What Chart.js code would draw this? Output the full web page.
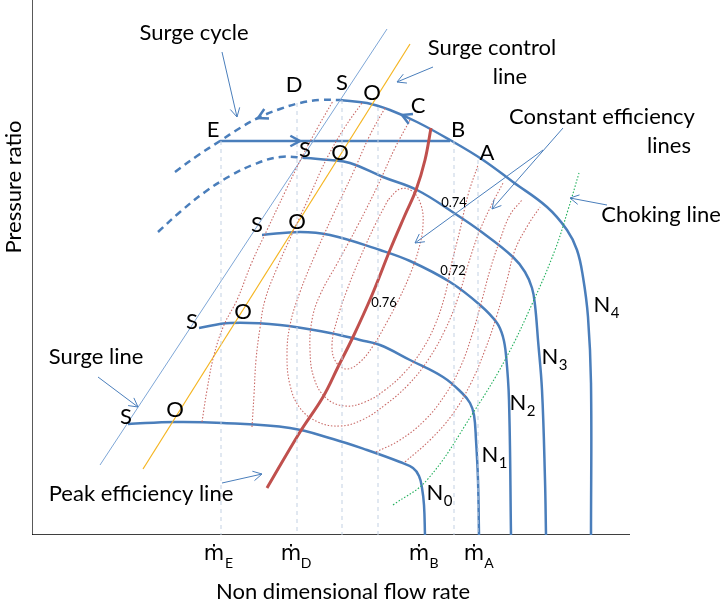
<!DOCTYPE html>
<html>
<head>
<meta charset="utf-8">
<script src="https://cdn.jsdelivr.net/npm/chart.js@4.4.1/dist/chart.umd.min.js"></script>
<style>body{margin:0;background:#fff;}</style>
</head>
<body>
<canvas id="myChart" width="725" height="604"></canvas>
<script>
// compressor map, flow rate (x) and pressure ratio (y) in arbitrary units
var surgeLine = [[68, 70], [355, 506]];
var surgeControlLine = [[111, 66], [378, 491]];
var peakEffLine = [[235, 47], [268, 103], [291, 138], [306, 168], [321, 198], [340, 240], [358, 285], [373, 320], [384, 345], [393, 375], [399, 407]];
var chokeLine = [[361, 30], [395, 55], [441, 122], [473, 175], [501, 233], [523, 285], [536, 325], [547, 362]];

// constant speed lines
var speedN0 = [[96, 111], [143, 113], [191, 112], [258, 107], [301, 96], [335, 85], [368, 73], [381, 67], [387, 59], [390, 47], [392, 30], [393, 0]];
var speedN1 = [[167, 207], [198, 212], [248, 210], [298, 202], [328, 195], [348, 190], [378, 175], [411, 158], [430, 142], [438, 132], [442, 120], [444, 95], [446, 55], [447, 0]];
var speedN2 = [[230, 300], [268, 303], [298, 300], [348, 285], [378, 274], [418, 253], [448, 230], [465, 212], [471, 198], [474, 180], [477, 135], [479, 0]];
var speedN3 = [[275, 377], [298, 375], [318, 372], [351, 358], [385, 345], [422, 322], [451, 302], [481, 278], [493, 263], [500, 247], [503, 230], [506, 195], [510, 145], [513, 55], [514, 0]];
var speedN3Stall = [[126, 303], [148, 323], [173, 343], [198, 359], [223, 371], [248, 378], [275, 377]];
var speedN4 = [[308, 435], [335, 432], [358, 425], [385, 413], [418, 395], [451, 375], [481, 353], [515, 328], [535, 305], [545, 285], [551, 258], [556, 218], [559, 152], [559, 0]];
var speedN4Stall = [[143, 363], [165, 379], [188, 394], [208, 407], [228, 418], [248, 426], [268, 432], [288, 435], [308, 435]];
var surgeJump = [[188, 394], [418, 394]];

// constant efficiency lines
var eff076 = [[356, 335], [343, 310], [328, 277], [315, 245], [305, 215], [300, 190], [304, 173], [315, 166], [328, 173], [341, 189], [355, 213], [368, 238], [379, 263], [387, 287], [391, 310], [389, 330], [380, 344], [368, 346], [356, 335]];
var eff074 = [[378, 415], [363, 387], [346, 350], [326, 310], [306, 273], [288, 240], [280, 215], [278, 185], [282, 157], [294, 137], [313, 129], [333, 133], [353, 145], [373, 163], [390, 185], [403, 210], [413, 240], [420, 273], [428, 305], [436, 340], [446, 370]];
var eff072 = [[353, 427], [338, 400], [320, 360], [301, 320], [283, 280], [268, 243], [258, 210], [255, 180], [258, 150], [268, 127], [286, 113], [308, 109], [330, 115], [353, 130], [376, 150], [396, 175], [413, 205], [426, 237], [436, 270], [446, 300], [458, 327], [471, 352]];
var eff070Left = [[220, 108], [222, 140], [224, 175], [228, 207], [233, 235], [245, 267], [261, 303], [278, 340], [295, 377], [313, 408], [330, 432]];
var eff070Right = [[344, 83], [368, 95], [393, 115], [413, 140], [428, 167], [440, 200], [450, 235], [458, 265], [468, 295], [478, 320], [490, 335]];
var eff068Left = [[170, 113], [175, 145], [182, 180], [192, 210], [205, 235], [220, 273], [236, 307], [253, 343], [270, 378], [286, 408], [301, 434]];
var eff068Right = [[373, 73], [398, 95], [420, 120], [438, 150], [453, 185], [465, 220], [475, 255], [483, 285], [496, 310], [508, 328]];

// flow rates of the surge cycle points, dropped to the axis
var guideFlow = [189, 265, 310, 346, 422, 446];
var guideTop = [394, 432, 435, 428, 394, 375];
var flowTicks = [188, 265, 393, 448];
var flowTickNames = ['E', 'D', 'B', 'A'];

var pointNames = ['S', 'O', 'S', 'O', 'S', 'O', 'S', 'O', 'S', 'O', 'C', 'B', 'A', 'D', 'E'];
var pointPos = [[94, 118], [143, 125], [160, 213], [211, 223], [225, 310], [265, 313], [273, 385], [308, 382], [310, 452], [340, 442], [386, 429], [426, 405], [455, 382], [262, 450], [181, 405]];
var speedNames = ['0', '1', '2', '3', '4'];
var speedPos = [[403, 42], [458, 80], [486, 132], [518, 178], [570, 230]];
var effNames = ['0.74', '0.72', '0.76'];
var effPos = [[422, 332], [421, 264], [352, 232]];

var noteText = ['Surge cycle', 'Surge control', 'line', 'Constant efficiency', 'lines', 'Choking line', 'Surge line', 'Peak efficiency line'];
var notePos = [[162, 502], [460, 487], [478, 458], [570, 418], [637, 389], [629, 320], [64, 178], [109, 41]];
var noteArrows = [[[190, 483], [205, 418]], [[401, 468], [365, 453]], [[531, 407], [460, 326]], [[511, 385], [383, 292]], [[575, 330], [538, 337]], [[66, 158], [106, 128]], [[190, 52], [230, 61]]];
var cycleArrows = [[[397, 408], [370, 420]], [[246, 427], [226, 417]], [[248, 394], [268, 394]]];

var frame = [[0, 535], [0, 0], [598, 0]];

function pts(arr) {
    return arr.map(function (p) { return {x: p[0], y: p[1]}; });
}

var blue = '#4A7EBB';
var effStyle = {borderColor: '#C96A67', borderWidth: 1.1, borderDash: [1.5, 1.8], tension: 0.4};

var datasets = [];
for (var i = 0; i < guideFlow.length; i++) {
    datasets.push({data: pts([[guideFlow[i], guideTop[i]], [guideFlow[i], 0]]), borderColor: '#C3D1E3', borderWidth: 1, borderDash: [4, 4]});
}
[eff076, eff074, eff072, eff070Left, eff070Right, eff068Left, eff068Right].forEach(function (c) {
    datasets.push(Object.assign({data: pts(c)}, effStyle));
});
datasets.push({data: pts(chokeLine), borderColor: '#1FAF5A', borderWidth: 1.1, borderDash: [1.5, 1.8], tension: 0.4});
datasets.push({data: pts(surgeLine), borderColor: '#7EA6D6', borderWidth: 1});
datasets.push({data: pts(surgeControlLine), borderColor: '#F5B521', borderWidth: 1.2});
datasets.push({data: pts(peakEffLine), borderColor: '#C0504D', borderWidth: 3, tension: 0.4});
[speedN0, speedN1, speedN2, speedN3, speedN4].forEach(function (c) {
    datasets.push({data: pts(c), borderColor: blue, borderWidth: 2.5, tension: 0.4});
});
[speedN3Stall, speedN4Stall].forEach(function (c) {
    datasets.push({data: pts(c), borderColor: blue, borderWidth: 2.5, borderDash: [7, 5], tension: 0.4});
});
datasets.push({data: pts(surgeJump), borderColor: blue, borderWidth: 2.5});
datasets.push({data: pts(frame), borderColor: '#000', borderWidth: 1.3});
datasets.forEach(function (d) { d.showLine = true; d.pointRadius = 0; d.fill = false; });

function arrowHead(c, x0, y0, x1, y1, size) {
    var a = Math.atan2(y1 - y0, x1 - x0);
    c.beginPath();
    c.moveTo(x1 - size * Math.cos(a - 0.5), y1 - size * Math.sin(a - 0.5));
    c.lineTo(x1, y1);
    c.lineTo(x1 - size * Math.cos(a + 0.5), y1 - size * Math.sin(a + 0.5));
    c.stroke();
}

var textPlugin = {
    id: 'mapText',
    afterDatasetsDraw: function (chart) {
        var c = chart.ctx, xs = chart.scales.x, ys = chart.scales.y;
        function px(p) { return [xs.getPixelForValue(p[0]), ys.getPixelForValue(p[1])]; }
        c.save();
        // annotation arrows
        c.strokeStyle = blue; c.lineWidth = 1;
        noteArrows.forEach(function (a) {
            var p0 = px(a[0]), p1 = px(a[1]);
            c.beginPath(); c.moveTo(p0[0], p0[1]); c.lineTo(p1[0], p1[1]); c.stroke();
            arrowHead(c, p0[0], p0[1], p1[0], p1[1], 10);
        });
        c.lineWidth = 2.5;
        cycleArrows.forEach(function (a) {
            var p0 = px(a[0]), p1 = px(a[1]);
            arrowHead(c, p0[0], p0[1], p1[0], p1[1], 11);
        });

        c.fillStyle = '#000';
        c.textAlign = 'center';
        c.textBaseline = 'middle';
        c.font = '22px Lato, "DejaVu Sans"';
        noteText.forEach(function (t, i) {
            var p = px(notePos[i]);
            c.fillText(t, p[0], p[1]);
        });
        pointNames.forEach(function (t, i) {
            var p = px(pointPos[i]);
            c.fillText(t, p[0], p[1]);
        });
        speedNames.forEach(function (t, i) {
            var p = px(speedPos[i]);
            c.font = '22px Lato, "DejaVu Sans"';
            c.fillText('N', p[0], p[1]);
            c.font = '15px Lato, "DejaVu Sans"';
            c.fillText(t, p[0] + 13, p[1] + 8);
        });
        c.font = '13px Lato, "DejaVu Sans"';
        effNames.forEach(function (t, i) {
            var p = px(effPos[i]);
            c.fillText(t, p[0], p[1]);
        });
        flowTicks.forEach(function (v, i) {
            var x = xs.getPixelForValue(v);
            c.font = '21px "DejaVu Sans"';
            c.fillText('\u1E41', x - 6, 555);
            c.font = '14px Lato, "DejaVu Sans"';
            c.fillText(flowTickNames[i], x + 9, 563);
        });
        c.font = '22px Lato, "DejaVu Sans"';
        c.fillText('Non dimensional flow rate', 343, 592);
        c.translate(14, 187);
        c.rotate(-Math.PI / 2);
        c.fillText('Pressure ratio', 0, 0);
        c.restore();
    }
};

var ctx = document.getElementById('myChart').getContext('2d');
var myChart = new Chart(ctx, {
    type: 'scatter',
    data: {datasets: datasets},
    options: {
        responsive: false,
        animation: false,
        layout: {padding: {left: 32, top: 0, right: 0, bottom: 69}},
        plugins: {legend: {display: false}, tooltip: {enabled: false}},
        scales: {
            x: {type: 'linear', min: 0, max: 693, display: false},
            y: {type: 'linear', min: 0, max: 535, display: false}
        }
    },
    plugins: [textPlugin]
});
</script>
</body>
</html>
